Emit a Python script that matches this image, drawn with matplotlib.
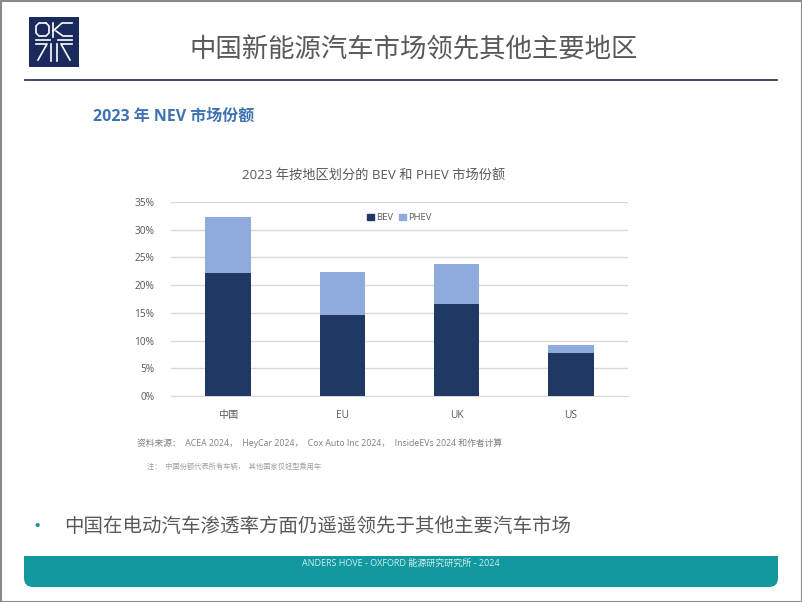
import numpy as np
import matplotlib
matplotlib.use("Agg")
import matplotlib.pyplot as plt
from matplotlib.patches import Rectangle, FancyBboxPatch, Patch
from matplotlib.ticker import PercentFormatter

plt.rcParams['font.family'] = ['Open Sans', 'Noto Sans CJK SC', 'DejaVu Sans']

# data
regions = ["中国", "EU", "UK", "US"]
bev = [22.2, 14.6, 16.6, 7.8]
phev = [10.1, 7.8, 7.2, 1.4]
yticks = [0, 5, 10, 15, 20, 25, 30, 35]

dark = "#1F3864"
light = "#8FAADC"
grey = "#595959"
teal = "#12999F"

W, H = 802, 602
fig = plt.figure(figsize=(W / 100, H / 100), dpi=100)

# page layer in pixel coordinates (y downwards)
bg = fig.add_axes([0, 0, 1, 1], zorder=-1)
bg.set_xlim(0, W)
bg.set_ylim(H, 0)
bg.axis("off")

bg.add_patch(Rectangle((0.5, 0.5), W - 1, H - 1, fill=False,
                       edgecolor="#8a8a8a", lw=1.5))

# logo
bg.add_patch(Rectangle((29, 17), 50, 50, color="#1B2A5C", lw=0))
logo_lines = [
    [(46, 23), (39, 23), (36, 26), (36, 33), (39, 36), (46, 36), (49, 33), (49, 26), (46, 23)],
    [(53, 23), (53, 37)],
    [(53, 31), (62, 23), (72, 23)],
    [(56, 31), (63, 36), (72, 36)],
    [(36, 40), (50, 40)], [(58, 40), (72, 40)],
    [(51, 44), (51, 61)], [(57, 44), (57, 61)],
    [(36, 44), (47, 44), (38, 60)], [(72, 44), (61, 44), (70, 60)],
]
for pts in logo_lines:
    bg.plot([p[0] for p in pts], [p[1] for p in pts], color="white", lw=1.2)

# header
bg.text(414, 50, "中国新能源汽车市场领先其他主要地区", fontsize=19,
        color=grey, ha="center", va="center", family=['Noto Sans CJK SC'])
bg.plot([25, 777], [80, 80], color="#2E3560", lw=1.3)
bg.text(93, 117, "2023 年 NEV 市场份额", fontsize=11.5, color="#3F72B0",
        fontweight="bold", ha="left", va="center")

bg.text(374, 175, "2023 年按地区划分的 BEV 和 PHEV 市场份额",
        fontsize=9.5, color=grey, ha="center", va="center")
bg.text(137, 443,
        "资料来源：  ACEA 2024，  HeyCar 2024，  Cox Auto Inc 2024，  InsideEVs 2024 和作者计算",
        fontsize=6.3, color="#7f7f7f", ha="left", va="center")
bg.text(147, 467, "注：  中国份额代表所有车辆，  其他国家仅轻型乘用车",
        fontsize=5.2, color="#a0a0a0", ha="left", va="center")

# bullet
bg.text(37, 527, "•", fontsize=14, color=teal, ha="center", va="center")
bg.text(64, 527, "中国在电动汽车渗透率方面仍遥遥领先于其他主要汽车市场",
        fontsize=14, color=grey, ha="left", va="center",
        family=['Noto Sans CJK SC'])

# footer band, rounded only at the bottom
bg.add_patch(FancyBboxPatch((24, 556), 754, 31,
                            boxstyle="round,pad=0,rounding_size=9",
                            color=teal, lw=0))
bg.add_patch(Rectangle((24, 556), 754, 15, color=teal, lw=0))
bg.text(401, 563, "ANDERS HOVE - OXFORD 能源研究研究所 - 2024",
        fontsize=6.5, color="#CFEDEF", ha="center", va="center")

# chart
ax = fig.add_axes([171 / W, 1 - 396 / H, 457 / W, 194 / H])
x = np.arange(len(regions))
ax.bar(x, bev, width=0.4, color=dark, zorder=3)
ax.bar(x, phev, width=0.4, bottom=bev, color=light, zorder=3)
ax.set_xlim(-0.5, 3.5)
ax.set_ylim(0, 35)
ax.set_yticks(yticks)
ax.yaxis.set_major_formatter(PercentFormatter(decimals=0))
ax.set_xticks(x)
ax.set_xticklabels(regions)
ax.grid(axis="y", color="#D9D9D9", lw=1, zorder=0)
for s in ["top", "right", "left"]:
    ax.spines[s].set_visible(False)
ax.spines["bottom"].set_color("#D9D9D9")
ax.tick_params(length=0, labelsize=7.3, labelcolor=grey)
ax.tick_params(axis="x", pad=10)
ax.tick_params(axis="y", pad=12)
ax.legend([Patch(color=dark), Patch(color=light)], ["BEV", "PHEV"],
          loc="upper center", bbox_to_anchor=(0.5, 0.985), ncol=2,
          frameon=False, fontsize=6.8, labelcolor=grey, handlelength=0.7,
          handleheight=0.7, handletextpad=0.3, columnspacing=0.6)

fig.savefig("out.png", dpi=100)
